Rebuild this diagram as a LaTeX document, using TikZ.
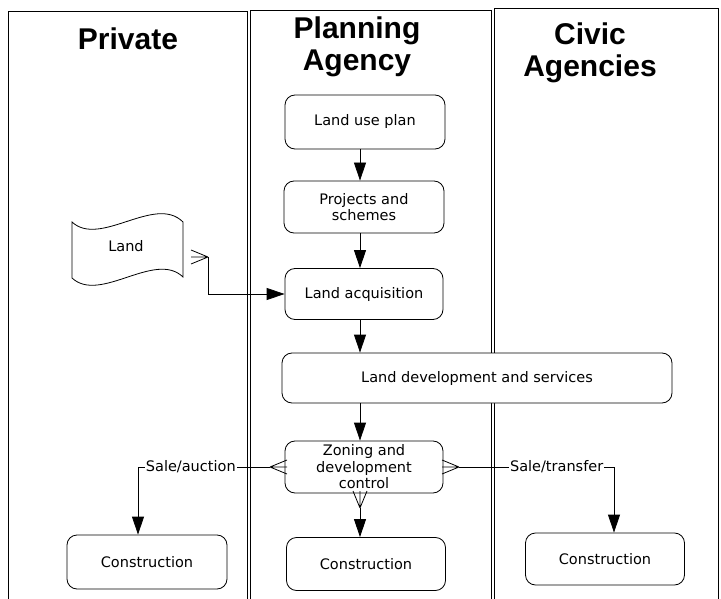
\documentclass[tikz,border=0pt]{standalone}
\usepackage{fontspec}
\usetikzlibrary{arrows.meta}
\newfontfamily\titlefont{Liberation Sans}
\newfontfamily\nodefont{DejaVu Sans}
\begin{document}
\begin{tikzpicture}[x=1pt,y=-1pt,
  lane/.style={draw, line width=0.9pt},
  title/.style={font=\titlefont\bfseries\fontsize{30}{32}\selectfont, align=center},
  stepbox/.style={draw, fill=white, line width=0.8pt, rounded corners=10pt, align=center,
    font=\nodefont\fontsize{14.5}{16.5}\selectfont, inner sep=1pt},
  flow/.style={line width=0.8pt},
  arr/.style={line width=0.8pt, -{Triangle[length=18pt,width=12pt]}},
  lbl/.style={fill=white, inner sep=1pt, font=\nodefont\fontsize{14.5}{16}\selectfont},
  crowfoot/.pic={\draw[line width=0.8pt] (0,0) -- (-17,-7) (0,0) -- (-17,0) (0,0) -- (-17,7);}
]
\useasboundingbox (0,0) rectangle (721,599);

% swim lanes
\draw[lane] (8,11) rectangle (247,605);
\draw[lane] (250,10) rectangle (491,605);
\draw[lane] (494,8) rectangle (718,605);

\node[title] (tpriv) at (128,39) {Private};
\node[title] (tplan) at (357,47) {Planning\\Agency};
\node[title] (tcivic) at (590,53) {Civic\\Agencies};

% process steps
\node[stepbox, minimum width=160, minimum height=54] (lup) at (365,122) {Land use plan};
\node[stepbox, minimum width=160, minimum height=52] (proj) at (364,207) {Projects and\\schemes};
\node[stepbox, minimum width=158, minimum height=51] (acq) at (364,294) {Land acquisition};
\node[stepbox, minimum width=390, minimum height=50] (dev) at (477,378) {Land development and services};
\node[stepbox, minimum width=158, minimum height=52] (zone) at (364,467) {Zoning and\\development\\control};
\node[stepbox, minimum width=160, minimum height=54] (conP) at (147,562) {Construction};
\node[stepbox, minimum width=159, minimum height=53] (conA) at (366,564) {Construction};
\node[stepbox, minimum width=159, minimum height=52] (conC) at (605,559) {Construction};

% land parcel (document shape)
\draw[line width=0.8pt] (72,222) .. controls (100,248) and (155,194) .. (183,222)
  -- (183,277) .. controls (155,250) and (100,304) .. (72,278) -- cycle;
\node[font=\nodefont\fontsize{14.5}{16}\selectfont] (land) at (126,246) {Land};

% connectors
\coordinate (landtip) at (208,257);
\path (landtip) pic {crowfoot};
\draw[arr] (landtip) |- (acq.west);

\draw[arr] (lup.south -| 360,0) -- (proj.north -| 360,0);
\draw[arr] (proj.south -| 360,0) -- (acq.north -| 360,0);
\draw[arr] (acq.south -| 360,0) -- (dev.north -| 360,0);
\draw[arr] (dev.south -| 360,0) -- (zone.north -| 360,0);

\coordinate (ztip) at (360,508);
\path (ztip) pic[rotate=-90] {crowfoot};
\draw[arr] (ztip) -- (conA.north -| ztip);

\coordinate (pcorner) at (138,467);
\coordinate (ptip) at (270,467);
\path (ptip) pic[rotate=180] {crowfoot};
\draw[flow] (ptip) -- (pcorner) node[lbl, pos=0.6] {Sale/auction};
\draw[arr] (pcorner) -- (pcorner |- conP.north);

\coordinate (ccorner) at (614,467);
\coordinate (ctip) at (459,467);
\path (ctip) pic {crowfoot};
\draw[flow] (ctip) -- (ccorner) node[lbl, pos=0.63] {Sale/transfer};
\draw[arr] (ccorner) -- (ccorner |- conC.north);
\end{tikzpicture}
\end{document}
